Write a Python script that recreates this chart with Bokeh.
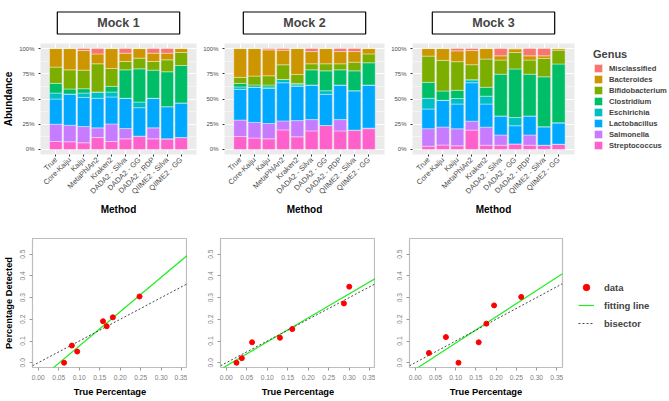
import math
import numpy as np
from bokeh.plotting import figure
from bokeh.models import (ColumnDataSource, FactorRange, Range1d, FixedTicker, Legend,
                          LegendItem, PrintfTickFormatter, NumeralTickFormatter)
from bokeh.layouts import row, column
from bokeh.embed import file_html
from bokeh.resources import INLINE

FONT = "Liberation Sans"

# ---------------- data ----------------
methods = ["True", "Core-Kaiju", "Kaiju", "MetaPhlAn2", "Kraken2", "DADA2 - Silva",
           "DADA2 - GG", "DADA2 - RDP", "QIIME2 - Silva", "QIIME2 - GG"]
genera = ["Misclassified", "Bacteroides", "Bifidobacterium", "Clostridium",
          "Eschirichia", "Lactobacillus", "Salmonella", "Streptococcus"]
genus_colors = ["#F8766D", "#CD9600", "#7CAE00", "#00BE67",
                "#00BFC4", "#00A9FF", "#C77CFF", "#FF61CC"]
mock_titles = ["Mock 1", "Mock 2", "Mock 3"]

# abundance (%) per genus, one value per method
mock1 = {
    "Streptococcus":   [7.9, 7.6, 6.6, 11.8, 7.9, 10.5, 13.2, 10.5, 10.5, 11.8],
    "Salmonella":      [17.1, 16.4, 16.1, 9.6, 17.4, 10.2, 0.0, 10.9, 0.0, 0.0],
    "Lactobacillus":   [25.0, 30.9, 28.9, 29.3, 26.7, 30.0, 28.2, 29.3, 31.9, 34.3],
    "Eschirichia":     [5.9, 0.0, 4.3, 6.2, 4.9, 0.0, 5.6, 0.0, 0.0, 0.0],
    "Clostridium":     [9.6, 5.0, 4.3, 0.0, 5.6, 28.2, 32.9, 27.9, 34.6, 37.1],
    "Bifidobacterium": [16.1, 19.0, 18.4, 28.0, 17.8, 8.3, 10.6, 8.6, 11.8, 12.9],
    "Bacteroides":     [18.4, 21.1, 19.4, 9.8, 19.7, 8.2, 9.5, 8.2, 6.6, 3.9],
    "Misclassified":   [0.0, 0.0, 2.0, 5.3, 0.0, 4.6, 0.0, 4.6, 4.6, 0.0],
}
mock2 = {
    "Streptococcus":   [12.8, 11.3, 10.5, 19.4, 12.5, 18.4, 23.7, 18.4, 19.1, 20.6],
    "Salmonella":      [16.3, 15.5, 15.2, 8.9, 16.1, 11.2, 0.0, 11.2, 0.0, 0.5],
    "Lactobacillus":   [30.5, 35.0, 34.8, 37.8, 33.9, 34.2, 30.9, 34.2, 39.1, 42.7],
    "Eschirichia":     [2.4, 0.0, 1.5, 3.3, 1.5, 0.0, 3.6, 0.0, 0.0, 0.0],
    "Clostridium":     [3.4, 2.1, 1.8, 0.0, 1.5, 15.1, 19.7, 15.1, 19.7, 22.1],
    "Bifidobacterium": [6.0, 8.8, 9.2, 14.5, 8.8, 6.0, 7.0, 6.0, 8.6, 8.8],
    "Bacteroides":     [28.6, 27.3, 25.7, 14.5, 25.7, 12.1, 15.1, 12.1, 10.5, 5.3],
    "Misclassified":   [0.0, 0.0, 1.3, 1.6, 0.0, 3.0, 0.0, 3.0, 3.0, 0.0],
}
mock3 = {
    "Streptococcus":   [3.2, 4.4, 3.6, 19.2, 4.2, 4.2, 5.5, 4.2, 4.2, 4.9],
    "Salmonella":      [17.4, 17.8, 16.9, 8.8, 17.9, 10.1, 0.0, 10.1, 0.0, 0.3],
    "Lactobacillus":   [19.5, 26.5, 24.5, 38.1, 22.9, 18.9, 18.0, 18.9, 18.3, 21.2],
    "Eschirichia":     [10.6, 0.0, 5.5, 3.0, 7.8, 0.0, 8.1, 0.0, 0.0, 0.0],
    "Clostridium":     [15.8, 9.2, 8.1, 0.0, 8.8, 41.4, 48.2, 41.4, 49.5, 58.3],
    "Bifidobacterium": [26.0, 30.4, 28.4, 14.9, 28.0, 14.0, 16.3, 14.0, 18.2, 13.7],
    "Bacteroides":     [7.5, 11.7, 10.7, 14.0, 10.4, 4.2, 3.6, 4.2, 2.6, 1.6],
    "Misclassified":   [0.0, 0.0, 2.3, 2.0, 0.0, 7.2, 0.3, 7.2, 7.2, 0.0],
}

# true vs detected fractions (Core-Kaiju vs True)
mock1_true_pct = [0.063, 0.082, 0.095, 0.158, 0.167, 0.182, 0.247]
mock1_detected_pct = [0.0, 0.079, 0.0515, 0.191, 0.168, 0.209, 0.305]
mock2_true_pct = [0.025, 0.038, 0.063, 0.131, 0.161, 0.287, 0.300]
mock2_detected_pct = [0.0, 0.021, 0.094, 0.115, 0.155, 0.273, 0.350]
mock3_true_pct = [0.034, 0.076, 0.107, 0.157, 0.176, 0.195, 0.262]
mock3_detected_pct = [0.045, 0.118, 0.0, 0.094, 0.180, 0.264, 0.303]

abundance_ticks = [0, 25, 50, 75, 100]
true_pct_ticks = [0.0, 0.05, 0.10, 0.15, 0.20, 0.25, 0.30, 0.35]
detected_pct_ticks = [0.0, 0.1, 0.2, 0.3, 0.4, 0.5]

stack_order = genera[::-1]          # Streptococcus at the bottom
stack_colors = genus_colors[::-1]


def bar_panel(mock, title, ylabel, left, frame_w, right):
    p = figure(x_range=FactorRange(factors=methods, range_padding=0.6,
                                   range_padding_units="absolute"),
               y_range=Range1d(-5, 105),
               frame_width=frame_w, frame_height=111,
               min_border_left=left, min_border_right=right,
               min_border_top=36, min_border_bottom=59,
               output_backend="svg", toolbar_location=None)
    src = ColumnDataSource(dict(method=methods, **{g: mock[g] for g in genera}))
    rs = p.vbar_stack(stack_order, x="method", width=0.9, color=stack_colors,
                      line_color="white", line_width=0.4, source=src)
    p.background_fill_color = "#EBEBEB"
    p.outline_line_color = None
    p.ygrid.grid_line_color = "white"
    p.ygrid.grid_line_width = 1
    p.ygrid.minor_grid_line_color = "white"
    p.ygrid.minor_grid_line_width = 0.5
    p.xgrid.grid_line_color = "white"
    p.xgrid.grid_line_width = 1
    p.yaxis.ticker = FixedTicker(ticks=abundance_ticks, minor_ticks=[12.5, 37.5, 62.5, 87.5])
    p.yaxis.formatter = PrintfTickFormatter(format="%d%%")
    for ax in (p.xaxis[0], p.yaxis[0]):
        ax.axis_line_color = None
        ax.major_tick_line_color = "#333333"
        ax.major_tick_out = 2
        ax.major_tick_in = 0
        ax.minor_tick_line_color = None
        ax.major_label_text_color = "#4D4D4D"
        ax.major_label_text_font = FONT
        ax.axis_label_text_font = FONT
        ax.axis_label_text_font_style = "bold"
        ax.axis_label_text_font_size = "10px"
        ax.axis_label_text_color = "black"
        ax.major_label_standoff = 2
        ax.axis_label_standoff = 2
    p.yaxis.major_label_text_font_size = "6px"
    p.xaxis.major_label_text_font_size = "7.5px"
    p.xaxis.major_label_orientation = math.pi / 4
    p.xaxis.axis_label = "Method"
    if ylabel:
        p.yaxis.axis_label = "Abundance"
    p.title.text = title
    p.title.align = "center"
    p.title.text_font = FONT
    p.title.text_font_size = "12.5px"
    p.title.text_font_style = "bold"
    p.title.border_line_color = "black"
    p.title.border_line_width = 1.2
    p.title.background_fill_color = "white"
    p.title.padding = dict(left=40, right=40, top=4, bottom=4)
    p.title.standoff = 19
    return p, rs


def scatter_panel(xv, yv, ylabel, left, frame_w, right):
    s = figure(x_range=Range1d(-0.014, 0.364), y_range=Range1d(-0.022, 0.572),
               frame_width=frame_w, frame_height=129,
               min_border_left=left, min_border_right=right,
               min_border_top=20, min_border_bottom=30,
               output_backend="svg", toolbar_location=None)
    slope, intercept = np.polyfit(xv, yv, 1)
    xs = [s.x_range.start, s.x_range.end]
    fit = s.line(xs, [slope * x + intercept for x in xs], color="#22EE22", line_width=1.2)
    bis = s.line(xs, xs, color="#333333", line_dash="2 2", line_width=0.9)
    pts = s.scatter(xv, yv, size=5, color="#FF0000", line_color="#FF0000")
    s.grid.visible = False
    s.outline_line_color = "#BDBDBD"
    s.outline_line_width = 1.2
    s.xaxis.ticker = FixedTicker(ticks=true_pct_ticks)
    s.yaxis.ticker = FixedTicker(ticks=detected_pct_ticks)
    s.xaxis.formatter = NumeralTickFormatter(format="0.00")
    s.yaxis.formatter = NumeralTickFormatter(format="0.0")
    for ax in (s.xaxis[0], s.yaxis[0]):
        ax.axis_line_color = None
        ax.major_tick_line_color = "#9A9A9A"
        ax.major_tick_out = 3
        ax.major_tick_in = 0
        ax.minor_tick_line_color = None
        ax.major_label_text_color = "#808080"
        ax.major_label_text_font = FONT
        ax.major_label_text_font_size = "6.7px"
        ax.axis_label_text_font = FONT
        ax.axis_label_text_font_style = "bold"
        ax.axis_label_text_font_size = "9.3px"
        ax.axis_label_text_color = "black"
        ax.major_label_standoff = 4
        ax.axis_label_standoff = 4
    s.yaxis.major_label_orientation = "parallel"
    s.xaxis.axis_label = "True Percentage"
    if ylabel:
        s.yaxis.axis_label = "Percentage Detected"
    return s, pts, fit, bis


p1, _ = bar_panel(mock1, mock_titles[0], True, 29, 156, 4)
p2, _ = bar_panel(mock2, mock_titles[1], False, 22, 160, 4)
p3, rs3 = bar_panel(mock3, mock_titles[2], False, 23, 162, 93)

items = [LegendItem(label=g, renderers=[rs3[stack_order.index(g)]]) for g in genera]
leg = Legend(items=items, title="Genus", location=(19, 4),
             glyph_width=10, glyph_height=10, label_height=10, spacing=1,
             label_standoff=6, padding=0, margin=0,
             border_line_color=None, background_fill_color=None,
             label_text_font=FONT, label_text_font_size="7.6px", label_text_font_style="bold",
             title_text_font=FONT, title_text_font_size="11px", title_text_font_style="bold",
             title_standoff=3)
p3.add_layout(leg, "right")

s1, _, _, _ = scatter_panel(mock1_true_pct, mock1_detected_pct, True, 31, 155, 0)
s2, _, _, _ = scatter_panel(mock2_true_pct, mock2_detected_pct, False, 33, 155, 0)
s3, pts3, fit3, bis3 = scatter_panel(mock3_true_pct, mock3_detected_pct, False, 34, 153, 92)

leg2 = Legend(items=[LegendItem(label="data", renderers=[pts3]),
                     LegendItem(label="fitting line", renderers=[fit3]),
                     LegendItem(label="bisector", renderers=[bis3])],
              location=(16, 35), glyph_width=16, glyph_height=18, label_height=18,
              spacing=0, label_standoff=10, padding=0, margin=0,
              border_line_color=None, background_fill_color=None,
              label_text_font=FONT, label_text_font_size="9.5px", label_text_font_style="bold")
s3.add_layout(leg2, "right")

layout = column(row(p1, p2, p3), row(s1, s2, s3))
open("out.html", "w").write(file_html(layout, INLINE))
